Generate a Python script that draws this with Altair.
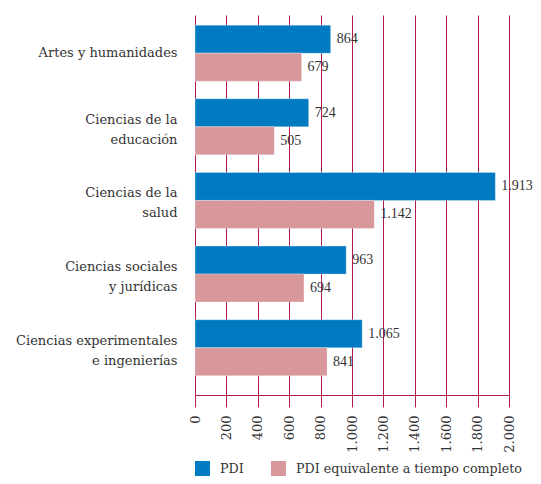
import altair as alt
import pandas as pd

categories = [
    "Artes y humanidades",
    "Ciencias de la\neducación",
    "Ciencias de la\nsalud",
    "Ciencias sociales\ny jurídicas",
    "Ciencias experimentales\ne ingenierías",
]
series = ["PDI", "PDI equivalente a tiempo completo"]
pdi = [864, 724, 1913, 963, 1065]
pdi_etc = [679, 505, 1142, 694, 841]
x_ticks = [0, 200, 400, 600, 800, 1000, 1200, 1400, 1600, 1800, 2000]
colors = ["#007bc2", "#d8979b"]

rows = []
for c, a, b in zip(categories, pdi, pdi_etc):
    rows.append({"cat": c, "serie": series[0], "valor": a})
    rows.append({"cat": c, "serie": series[1], "valor": b})
df = pd.DataFrame(rows)

FONT = "DejaVu Serif"
NFONT = "Liberation Serif"
FS = 13
GRID = "#b31c52"
TXT = "#333333"

y_axis = alt.Axis(
    domain=False,
    ticks=False,
    labelPadding=18,
    labelFont=FONT,
    labelFontSize=FS,
    labelColor=TXT,
    labelLineHeight=20,
    labelLimit=300,
    labelExpr="split(datum.label, '\\n')",
    labelOffset=alt.condition("indexof(datum.value, '\\n') >= 0", alt.value(-7), alt.value(0)),
)
y_scale = alt.Scale(paddingInner=0.24, paddingOuter=0.2, align=0.345, round=False)
x_axis = alt.Axis(
    values=x_ticks,
    tickCount=11,
    grid=True,
    gridColor=GRID,
    gridWidth=1,
    tickColor=GRID,
    tickSize=12,
    domainColor=GRID,
    labelAngle=270,
    labelPadding=8,
    labelOverlap=False,
    labelFont=FONT,
    labelFontSize=FS,
    labelColor=TXT,
    labelExpr="replace(format(datum.value, ','), ',', '.')",
)
x_scale = alt.Scale(domain=[0, 2000], nice=False)

yoff = alt.YOffset(
    "serie:N",
    sort=series,
    scale=alt.Scale(paddingInner=0, paddingOuter=0),
)

base = alt.Chart(df)

bars = base.mark_bar(stroke="white", strokeWidth=0.5, strokeOpacity=0.6).encode(
    y=alt.Y("cat:N", sort=categories, title=None, scale=y_scale, axis=y_axis),
    yOffset=yoff,
    x=alt.X("valor:Q", title=None, scale=x_scale, axis=x_axis),
    color=alt.Color(
        "serie:N",
        sort=series,
        scale=alt.Scale(domain=series, range=colors),
        legend=alt.Legend(
            title=None,
            orient="none",
            legendX=0,
            legendY=446,
            direction="horizontal",
            symbolType="square",
            symbolSize=225,
            symbolStrokeWidth=0,
            symbolOpacity=1,
            labelFont=FONT,
            labelFontSize=12.7,
            labelColor=TXT,
            labelOffset=10,
            columnPadding=27,
            labelLimit=400,
        ),
    ),
)

labels = base.transform_calculate(
    lab="replace(format(datum.valor, ','), ',', '.')"
).mark_text(
    align="left", baseline="middle", dx=6, font=NFONT, fontSize=14, color=TXT
).encode(
    y=alt.Y("cat:N", sort=categories, title=None, scale=y_scale, axis=y_axis),
    yOffset=yoff,
    x=alt.X("valor:Q", title=None, scale=x_scale, axis=x_axis),
    text="lab:N",
)

chart = (
    alt.layer(bars, labels)
    .properties(
        width=314,
        height=380,
        autosize=alt.AutoSizeParams(type="none"),
        padding={"left": 187, "top": 7, "right": 24, "bottom": 81},
        background="white",
    )
    .configure_view(strokeOpacity=0)
)

chart.save("out.html", embed_options={"renderer": "svg", "actions": False})
